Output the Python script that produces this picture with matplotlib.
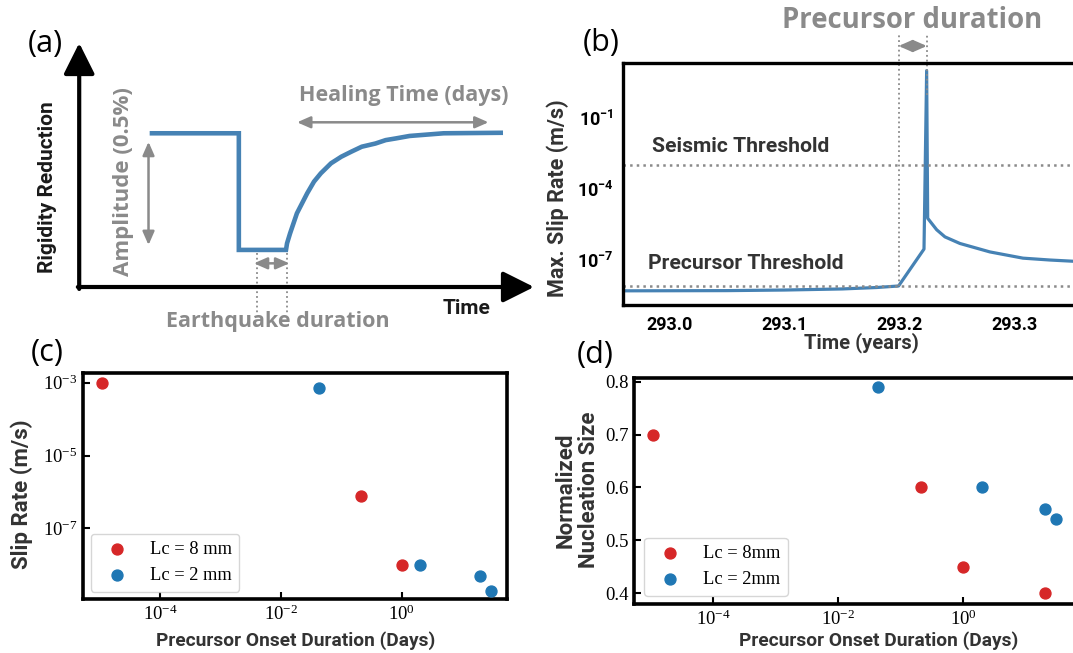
import math
import matplotlib
matplotlib.use('Agg')
import matplotlib.pyplot as plt
from matplotlib.ticker import FixedLocator, NullLocator, LogFormatterSciNotation

W, H = 1073, 653

# ---- (a) schematic, in schematic units (time 0-10, rigidity 0-1)
sch_t = [1.60, 3.51, 3.51, 4.547, 4.57, 4.637, 4.787, 5.013, 5.163, 5.313, 5.537, 5.763,
         5.988, 6.214, 6.513, 6.739, 6.964, 7.264, 8.014, 9.268]
sch_r = [0.630, 0.630, 0.152, 0.152, 0.179, 0.220, 0.302, 0.384, 0.432, 0.466, 0.507, 0.534,
         0.555, 0.575, 0.588, 0.602, 0.609, 0.619, 0.630, 0.632]

# ---- (b) max slip rate time series
slip_t = [292.962, 293.05, 293.10, 293.15, 293.18, 293.199, 293.2211, 293.2234, 293.2243,
          293.2321, 293.2393, 293.2523, 293.2783, 293.307, 293.3305, 293.362]
slip_v = [5.0e-9, 5.1e-9, 5.4e-9, 6.0e-9, 6.9e-9, 8.0e-9, 2.9e-7, 1.0e1, 5.8e-6,
          1.9e-6, 9.5e-7, 5.0e-7, 2.2e-7, 1.2e-7, 1.0e-7, 8.3e-8]
seismic_thr = 1.0e-3
precursor_thr = 8.0e-9
t_onset, t_peak = 293.199, 293.2236
b_xticks = [293.0, 293.1, 293.2, 293.3]
b_xticklabels = ['293.0', '293.1', '293.2', '293.3']
b_yticks = [1e-1, 1e-4, 1e-7]
b_yticklabels = [r'$10^{-1}$', r'$10^{-4}$', r'$10^{-7}$']

# ---- (c), (d) scatter data
red_dur = [1.1e-5, 0.21, 1.0, 20.0]
blue_dur = [0.0426, 2.0, 20.0, 30.0]
red_slip = [1.0e-3, 7.9e-7, 1.0e-8]          # (c) has only three red points
blue_slip = [7.0e-4, 1.0e-8, 4.9e-9, 1.95e-9]
red_nuc = [0.70, 0.60, 0.45, 0.40]
blue_nuc = [0.79, 0.60, 0.56, 0.54]

BLUE = '#4682b4'
GRAY = '#8a8a8a'
DARK = '#333333'
RED_PT = '#d62728'
BLUE_PT = '#1f77b4'

plt.rcParams['mathtext.fontset'] = 'stix'
# bold sans digits for the (b) tick labels only (they use the 'custom' math family)
plt.rcParams['mathtext.rm'] = 'Roboto:bold'
plt.rcParams['mathtext.it'] = 'Roboto:bold'
plt.rcParams['mathtext.bf'] = 'Roboto:bold'


def rect(l, t, r, b):
    return [l / W, 1 - b / H, (r - l) / W, (b - t) / H]


def fx(px):
    return px / W


def fy(py):
    return 1 - py / H


fig = plt.figure(figsize=(W / 100, H / 100), dpi=100)

sans = dict(family=['Roboto', 'DejaVu Sans'], weight='bold')
osans = dict(family=['Open Sans', 'DejaVu Sans'])

# ================= (a)
ax_a = fig.add_axes(rect(79.2, 43, 534, 287))
ax_a.set_xlim(0, 10)
ax_a.set_ylim(0, 1)
ax_a.axis('off')
ax_a.plot(sch_t, sch_r, color=BLUE, lw=3.3, solid_joinstyle='miter')
big = dict(arrowstyle='-|>,head_length=1.9,head_width=0.95', lw=3, color='black',
           shrinkA=0, shrinkB=0)
ax_a.annotate('', xy=(0, 1.0), xytext=(0, -0.008), arrowprops=big, annotation_clip=False)
ax_a.annotate('', xy=(10, 0), xytext=(-0.03, 0), arrowprops=big, annotation_clip=False)
small = dict(arrowstyle='<|-|>,head_length=0.8,head_width=0.35', lw=1.8, color=GRAY,
             shrinkA=0, shrinkB=0)
ax_a.annotate('', xy=(1.524, 0.595), xytext=(1.524, 0.172), arrowprops=small)
ax_a.annotate('', xy=(4.79, 0.675), xytext=(9.0, 0.675), arrowprops=small)
ax_a.annotate('', xy=(3.84, 0.097), xytext=(4.62, 0.097), arrowprops=small)
for tv in [3.90, 4.56]:
    ax_a.plot([tv, tv], [0.139, -0.107], ls=':', color=GRAY, lw=1.3, clip_on=False)

fig.text(fx(45), fy(44), '(a)', fontsize=22, ha='center', va='center', **osans)
fig.text(fx(47.8), fy(187), 'Rigidity Reduction', rotation=90, fontsize=15, color='#1a1a1a',
         ha='center', va='center', **sans)
fig.text(fx(123), fy(182), 'Amplitude (0.5%)', rotation=90, fontsize=16, color=GRAY,
         weight='bold', ha='center', va='center', **osans)
fig.text(fx(404), fy(95), 'Healing Time (days)', fontsize=15.5, color=GRAY,
         weight='bold', ha='center', va='center', **osans)
fig.text(fx(278), fy(322), 'Earthquake duration', fontsize=15.5, color=GRAY,
         weight='bold', ha='center', va='center', **osans)
fig.text(fx(467), fy(309), 'Time', fontsize=15, color='#1a1a1a', ha='center', va='center', **sans)

# ================= (b)
bl, bt, br, bb = 623.3, 63.3, 1085, 305
ax_b = fig.add_axes(rect(bl, bt, br, bb))
ax_b.plot(slip_t, slip_v, color=BLUE, lw=2.3)
ax_b.set_yscale('log')
ax_b.set_xlim(292.960, 293.3609)
ax_b.set_ylim(10 ** -8.90, 10 ** 1.31)
ax_b.axhline(seismic_thr, color=GRAY, ls=':', lw=1.8)
ax_b.axhline(precursor_thr, color=GRAY, ls=':', lw=1.8)
ax_b.yaxis.set_major_locator(FixedLocator(b_yticks))
ax_b.yaxis.set_minor_locator(NullLocator())
ax_b.set_yticklabels(b_yticklabels)
ax_b.set_xticks(b_xticks)
ax_b.set_xticklabels(b_xticklabels)
ax_b.tick_params(axis='x', length=0, labelsize=13, pad=8)
ax_b.tick_params(axis='y', length=0, labelsize=13, pad=7)
for lab in ax_b.get_xticklabels():
    lab.set_fontfamily(['Roboto', 'DejaVu Sans'])
    lab.set_fontweight('bold')
for lab in ax_b.get_yticklabels():
    lab.set_math_fontfamily('custom')
for s in ax_b.spines.values():
    s.set_linewidth(2.4)
axw, axh = br - bl, bb - bt
ax_b.set_ylabel('Max. Slip Rate (m/s)', fontsize=15.5, color=DARK, **sans)
ax_b.yaxis.set_label_coords((557.5 - bl) / axw, (bb - 198) / axh)
ax_b.yaxis.label.set_va('center')
ax_b.set_xlabel('Time (years)', fontsize=14.5, color=DARK, **sans)
ax_b.xaxis.set_label_coords((861 - bl) / axw, (bb - 348.3) / axh)
ax_b.xaxis.label.set_va('baseline')
ax_b.text(292.9852, 3.77e-3, 'Seismic Threshold', fontsize=15.2, color=DARK, va='baseline', **sans)
ax_b.text(292.9817, 4.05e-8, 'Precursor Threshold', fontsize=15.2, color=DARK, va='baseline', **sans)
# precursor duration marker above the box
thr_frac = (math.log10(precursor_thr) + 8.90) / (1.31 + 8.90)
ax_b.axvline(t_onset, ymin=thr_frac, ymax=(bb - 35) / axh, color=GRAY, ls=':', lw=1.3, clip_on=False)
ax_b.axvline(t_peak, ymin=(bb - 95) / axh, ymax=(bb - 35) / axh, color=GRAY, ls=':', lw=1.3,
             clip_on=False)
ax_b.annotate('', xy=(t_onset, (bb - 46) / axh), xytext=(t_peak, (bb - 46) / axh),
              xycoords=ax_b.get_xaxis_transform(), textcoords=ax_b.get_xaxis_transform(),
              arrowprops=small, annotation_clip=False)
fig.text(fx(912.6), fy(21), 'Precursor duration', fontsize=19.8, color=GRAY, weight='bold',
         ha='center', va='center', **osans)
fig.text(fx(601), fy(43), '(b)', fontsize=22, ha='center', va='center', **osans)


def style_scatter_axes(ax):
    for s in ax.spines.values():
        s.set_linewidth(2.6)
    ax.tick_params(direction='in', length=5, width=1.5, labelsize=13.5, pad=4,
                   labelfontfamily='Liberation Serif')
    ax.xaxis.set_minor_locator(NullLocator())


# ================= (c)
cl, ct, cr, cb = 82.7, 373.3, 506.7, 599.3
ax_c = fig.add_axes(rect(cl, ct, cr, cb))
ax_c.scatter(red_dur[:3], red_slip, s=62, color=RED_PT, label='Lc = 8 mm', zorder=3)
ax_c.scatter(blue_dur, blue_slip, s=62, color=BLUE_PT, label='Lc = 2 mm', zorder=3)
ax_c.set_xscale('log')
ax_c.set_yscale('log')
ax_c.set_xlim(10 ** -5.28, 10 ** 1.74)
ax_c.set_ylim(10 ** -8.95, 10 ** -2.74)
ax_c.xaxis.set_major_locator(FixedLocator([1e-4, 1e-2, 1e0]))
ax_c.yaxis.set_major_locator(FixedLocator([1e-7, 1e-5, 1e-3]))
ax_c.xaxis.set_major_formatter(LogFormatterSciNotation())
ax_c.yaxis.set_major_formatter(LogFormatterSciNotation())
ax_c.yaxis.set_minor_locator(NullLocator())
style_scatter_axes(ax_c)
cw, ch = cr - cl, cb - ct
ax_c.set_ylabel('Slip Rate (m/s)', fontsize=16, color=DARK, **sans)
ax_c.yaxis.set_label_coords((22.2 - cl) / cw, (cb - 494) / ch)
ax_c.yaxis.label.set_va('center')
ax_c.set_xlabel('Precursor Onset Duration (Days)', fontsize=13.8, color=DARK, **sans)
ax_c.xaxis.set_label_coords((295.4 - cl) / cw, (cb - 645.5) / ch)
ax_c.xaxis.label.set_va('baseline')
ax_c.legend(loc='lower left', bbox_to_anchor=((90.7 - cl) / cw, (cb - 591.7) / ch),
            borderaxespad=0, prop={'family': 'Liberation Serif', 'size': 13.3})
fig.text(fx(47), fy(353), '(c)', fontsize=22, ha='center', va='center', **osans)

# ================= (d)
dl, dt, dr, db = 634.3, 378, 1085, 604.3
ax_d = fig.add_axes(rect(dl, dt, dr, db))
ax_d.scatter(red_dur, red_nuc, s=62, color=RED_PT, label='Lc = 8mm', zorder=3)
ax_d.scatter(blue_dur, blue_nuc, s=62, color=BLUE_PT, label='Lc = 2mm', zorder=3)
ax_d.set_xscale('log')
ax_d.set_xlim(10 ** -5.264, 10 ** 1.947)
ax_d.set_ylim(0.379, 0.807)
ax_d.xaxis.set_major_locator(FixedLocator([1e-4, 1e-2, 1e0]))
ax_d.xaxis.set_major_formatter(LogFormatterSciNotation())
ax_d.set_yticks([0.4, 0.5, 0.6, 0.7, 0.8])
style_scatter_axes(ax_d)
dw, dh = dr - dl, db - dt
ax_d.set_ylabel('Normalized\nNucleation Size', fontsize=16, color=DARK, linespacing=1.05, **sans)
ax_d.yaxis.set_label_coords((577.4 - dl) / dw, (db - 490) / dh)
ax_d.yaxis.label.set_va('center')
ax_d.set_xlabel('Precursor Onset Duration (Days)', fontsize=13.8, color=DARK, **sans)
ax_d.xaxis.set_label_coords((878.4 - dl) / dw, (db - 645.5) / dh)
ax_d.xaxis.label.set_va('baseline')
ax_d.legend(loc='lower left', bbox_to_anchor=((644.3 - dl) / dw, (db - 595.7) / dh),
            borderaxespad=0, prop={'family': 'Liberation Serif', 'size': 13.3})
fig.text(fx(595), fy(355), '(d)', fontsize=22, ha='center', va='center', **osans)

fig.savefig('out.png', dpi=100)
